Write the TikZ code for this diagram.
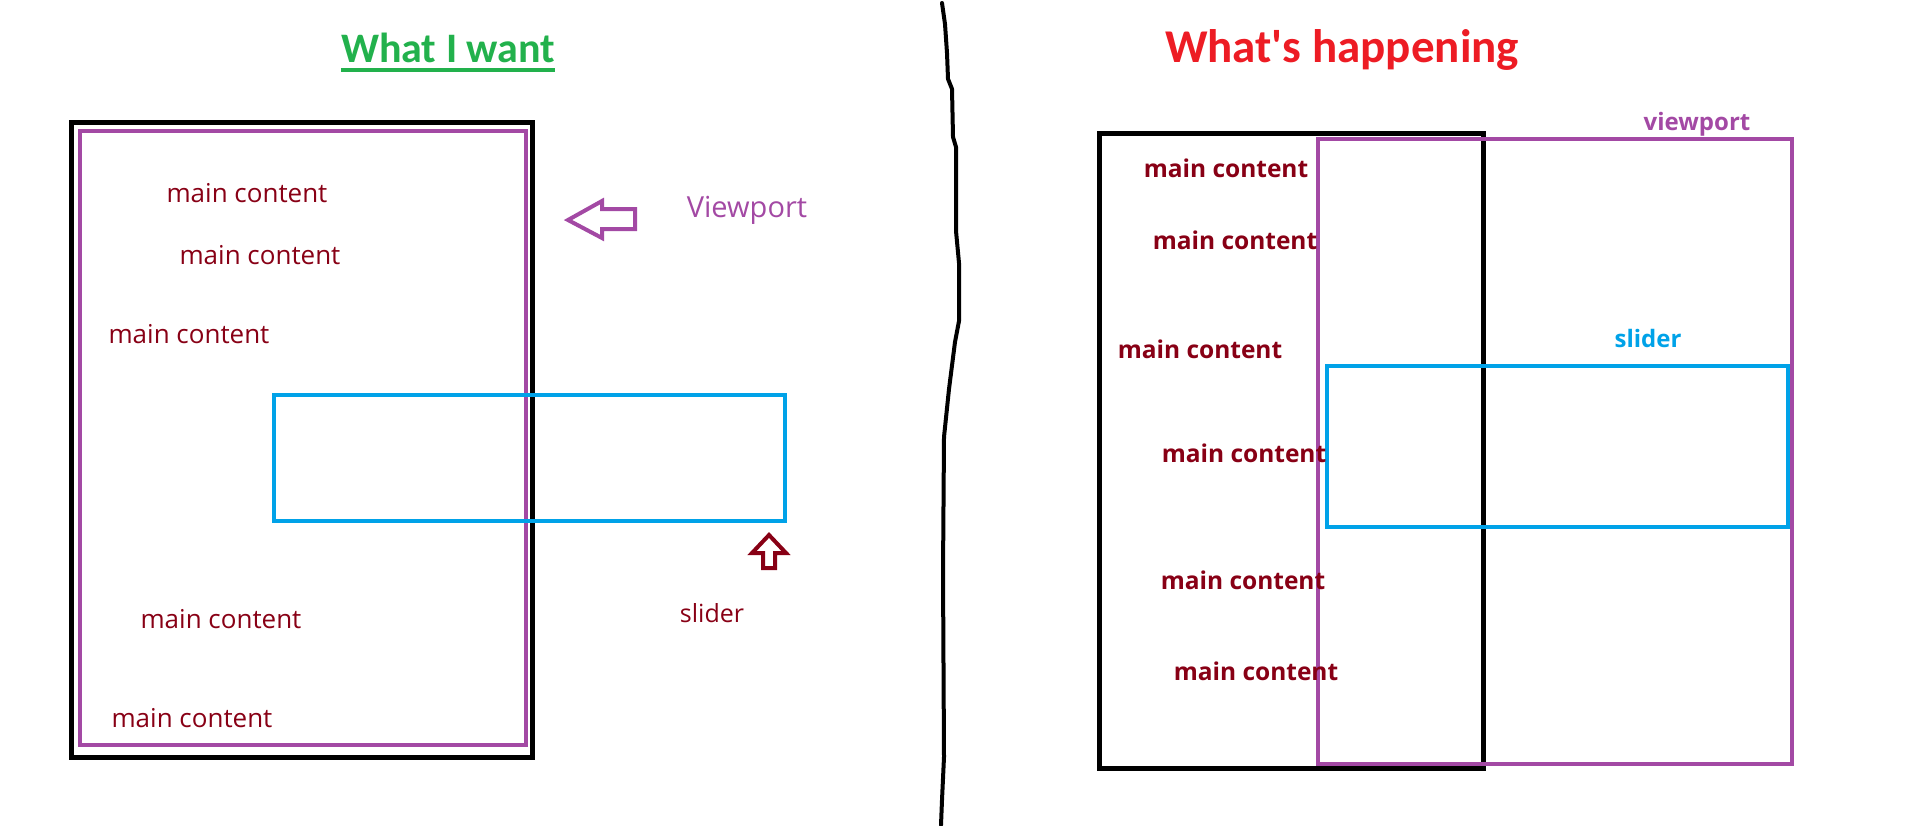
\documentclass[tikz,border=0pt]{standalone}
\usepackage{fontspec}
\setmainfont{Open Sans}
\newfontfamily\titlefont{Carlito}
\usepackage{tikz}
\usetikzlibrary{positioning}
\definecolor{paintgreen}{RGB}{34,177,76}
\definecolor{paintred}{RGB}{237,28,36}
\definecolor{darkred}{RGB}{136,0,21}
\definecolor{viewpurple}{RGB}{163,73,164}
\definecolor{sliderblue}{RGB}{0,162,232}

\begin{document}
\begin{tikzpicture}[
    x=1pt, y=-1pt,
    content/.style={anchor=base, text=darkred, inner sep=0pt, font=\fontsize{26}{31}\selectfont},
    boldcontent/.style={content, font=\fontsize{24.5}{29}\selectfont\bfseries},
    frame/.style={draw=black, line width=5pt},
    viewbox/.style={draw=viewpurple, line width=4pt},
    sliderbox/.style={draw=sliderblue, line width=4pt},
    title/.style={anchor=base, inner sep=0pt, font=\titlefont\bfseries\fontsize{42}{49}\selectfont},
    hollow/.style={line width=4pt, line join=miter}
]
\useasboundingbox (0,0) rectangle (1914,825);

% Titles
\node[title, text=paintgreen] (want) at (448,62) {What I want};
\draw[paintgreen, line width=3.5pt] ([yshift=-8pt]want.base west) -- ([yshift=-8pt]want.base east);
\node[title, text=paintred, font=\titlefont\bfseries\fontsize{47}{54}\selectfont] (happen) at (1342,62) {What's happening};

% Divider
\draw[line width=4pt, line join=round, line cap=round] (942,3) -- (945,24) -- (947,53) -- (948,79) -- (952,89)
    -- (953,137) -- (956,147) -- (956,231) -- (959,263) -- (959,321) -- (955,342) -- (949,389)
    -- (944,437) -- (943,573) -- (944,757) -- (942,800) -- (941,825);

% Left: what I want
\draw[frame] (71.5,122.5) rectangle (532,757);
\draw[viewbox] (79.5,130.5) rectangle (526,745);
\draw[sliderbox] (274,395) rectangle (785,521);
\foreach \px/\py [count=\i] in {247/202, 260/264, 189/343, 221/628, 192/727}
    \node[content] (wantmc\i) at (\px,\py) {main content};

% Left arrows and labels
\draw[hollow, viewpurple] (568,220) -- (602,201) -- (602,209) -- (635,209) -- (635,229) -- (602,229) -- (602,238) -- cycle;
\node[content, text=viewpurple, font=\fontsize{29}{34}\selectfont] (wantview) at (747,217) {Viewport};
\draw[hollow, darkred] (769,535) -- (786,553) -- (775,553) -- (775,568) -- (763,568) -- (763,553) -- (752,553) -- cycle;
\node[content, font=\fontsize{25}{30}\selectfont] (wantslider) at (712,622) {slider};

% Right: what's happening
\draw[frame] (1099,133) rectangle (1483,768);
\draw[viewbox] (1318,139) rectangle (1792,764);
\draw[sliderbox] (1327,366) rectangle (1788,527);
\foreach \px/\py [count=\i] in {1226/177, 1235/249, 1200/358, 1244/462, 1243/589, 1256/680}
    \node[boldcontent] (happenmc\i) at (\px,\py) {main content};
\node[boldcontent, text=viewpurple, font=\fontsize{24}{29}\selectfont\bfseries] (happenview) at (1697,130) {viewport};
\node[boldcontent, text=sliderblue, font=\fontsize{24}{29}\selectfont\bfseries] (happenslider) at (1648,347) {slider};
\end{tikzpicture}
\end{document}
